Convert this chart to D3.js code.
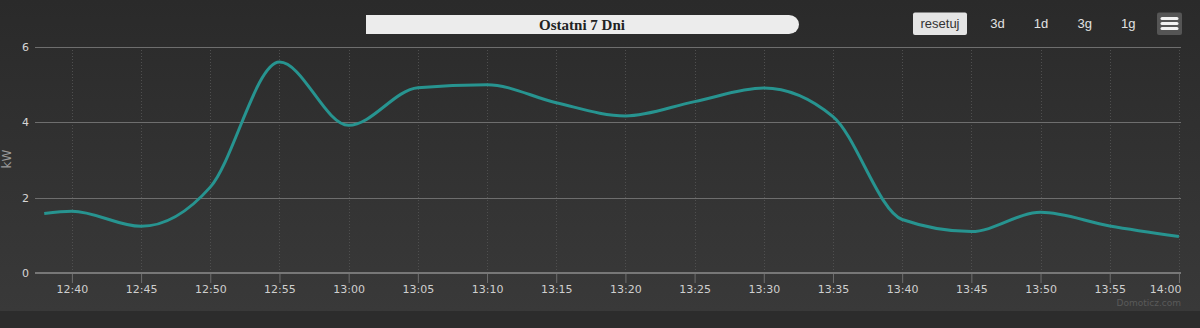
<!DOCTYPE html>
<html>
<head>
<meta charset="utf-8">
<script src="https://cdn.jsdelivr.net/npm/d3@7"></script>
<style>
  body { margin: 0; background: #2c2c2c; }
  svg { display: block; }
</style>
</head>
<body>
<div id="chart"></div>
<script>
// data (kW, one point roughly every 5 minutes)
var times = ["12:38", "12:40", "12:45", "12:50", "12:55", "13:00", "13:05", "13:10", "13:15",
             "13:20", "13:25", "13:30", "13:35", "13:40", "13:45", "13:50", "13:55", "14:00"];
var power = [1.58, 1.64, 1.24, 2.28, 5.6, 3.92, 4.92, 5.0, 4.52,
             4.17, 4.55, 4.91, 4.15, 1.42, 1.1, 1.61, 1.25, 0.97];
var yTicks = [0, 2, 4, 6];
var rangeButtons = ["3d", "1d", "3g", "1g"];
var title = "Ostatni 7 Dni";

var W = 1200, H = 328;
var parse = d3.timeParse("%H:%M:%S");
var t = function(s) { return parse(s.length == 5 ? s + ":00" : s); };

var svg = d3.select("#chart").append("svg")
    .attr("width", W).attr("height", H);

// background with a soft vertical gradient
var grad = svg.append("defs").append("linearGradient")
    .attr("id", "bg").attr("x1", 0).attr("y1", 0).attr("x2", 0).attr("y2", 1);
grad.append("stop").attr("offset", "0%").attr("stop-color", "#2a2a2a");
grad.append("stop").attr("offset", "100%").attr("stop-color", "#393939");
svg.append("rect").attr("width", W).attr("height", 311).attr("fill", "url(#bg)");
svg.append("rect").attr("y", 311).attr("width", W).attr("height", H - 311).attr("fill", "#2c2c2c");

var x = d3.scaleTime()
    .domain([t("12:37:20"), t("14:00:09")])
    .range([35, 1181]);
var y = d3.scaleLinear().domain([0, 6]).range([273, 47]);

var xTicks = d3.timeMinute.every(5).range(t("12:40"), t("14:00:01"));

// vertical dotted grid
svg.append("g").selectAll("line").data(xTicks).enter().append("line")
    .attr("x1", d => Math.round(x(d)) + 0.5).attr("x2", d => Math.round(x(d)) + 0.5)
    .attr("y1", 47).attr("y2", 273)
    .attr("stroke", "#4f4f4f").attr("stroke-dasharray", "1,2");

// horizontal grid
svg.append("g").selectAll("line").data(yTicks.filter(d => d > 0)).enter().append("line")
    .attr("x1", 35).attr("x2", 1181)
    .attr("y1", d => Math.round(y(d)) + 0.5).attr("y2", d => Math.round(y(d)) + 0.5)
    .attr("stroke", "#6e6e6e");

// x axis
var xAxis = svg.append("g")
    .attr("transform", "translate(0,273)")
    .call(d3.axisBottom(x).tickValues(xTicks).tickFormat(d3.timeFormat("%H:%M"))
          .tickSize(10).tickPadding(0));
xAxis.select(".domain").remove();
xAxis.append("line").attr("x1", 35).attr("x2", 1181).attr("stroke", "#777").attr("stroke-width", 2);
xAxis.selectAll(".tick line").attr("stroke", "#6e6e6e");
xAxis.selectAll(".tick text")
    .attr("fill", "#cfcfcf").style("font", "11px 'DejaVu Sans'")
    .attr("y", 20).attr("dy", null);
// last label pushed inside the plot like highcharts does
xAxis.selectAll(".tick text").filter((d, i, n) => i == n.length - 1)
    .attr("text-anchor", "end").attr("x", 1181 - x(xTicks[xTicks.length - 1]));

// y axis labels
svg.append("g").selectAll("text").data(yTicks).enter().append("text")
    .attr("x", 29).attr("y", d => y(d) + 4)
    .attr("text-anchor", "end")
    .attr("fill", "#d6d6d6").style("font", "11px 'DejaVu Sans'")
    .text(d => d);

svg.append("text")
    .attr("transform", "translate(11,159) rotate(-90)")
    .attr("text-anchor", "middle")
    .attr("fill", "#9a9a9a").style("font", "12px 'DejaVu Sans'")
    .text("kW");

// the power line
var line = d3.line()
    .x((d, i) => x(t(times[i])))
    .y(d => y(d))
    .curve(d3.curveMonotoneX);
svg.append("path").datum(power)
    .attr("d", line)
    .attr("fill", "none")
    .attr("stroke", "#279490")
    .attr("stroke-width", 3)
    .attr("stroke-linejoin", "round");

// title pill
svg.append("path")
    .attr("d", "M366,15 H789 A10,9.5 0 0 1 789,34 H366 Z")
    .attr("fill", "#ececec");
svg.append("text")
    .attr("x", 582).attr("y", 30)
    .attr("text-anchor", "middle")
    .attr("fill", "#222")
    .style("font", "bold 15px 'Liberation Serif'")
    .text(title);

// range selector buttons
svg.append("rect").attr("x", 913).attr("y", 12.5).attr("width", 54).attr("height", 22.5)
    .attr("rx", 2).attr("fill", "#e4e4e4");
svg.append("text").attr("x", 940).attr("y", 28).attr("text-anchor", "middle")
    .attr("fill", "#333").style("font", "13px 'Liberation Sans'").text("resetuj");
svg.append("g").selectAll("text").data(rangeButtons).enter().append("text")
    .attr("x", (d, i) => 997.5 + i * 43.6).attr("y", 28)
    .attr("text-anchor", "middle")
    .attr("fill", "#e2e2e2").style("font", "13px 'Liberation Sans'")
    .text(d => d);

// menu button
svg.append("rect").attr("x", 1157).attr("y", 12.5).attr("width", 25).attr("height", 22.5)
    .attr("rx", 2).attr("fill", "#555");
svg.append("g").selectAll("line").data([18.5, 23.5, 28.5]).enter().append("line")
    .attr("x1", 1162).attr("x2", 1177).attr("y1", d => d).attr("y2", d => d)
    .attr("stroke", "#f2f2f2").attr("stroke-width", 3).attr("stroke-linecap", "round");

// credits
svg.append("text").attr("x", 1181).attr("y", 306).attr("text-anchor", "end")
    .attr("fill", "#5a5a5a").style("font", "9px 'DejaVu Sans'").text("Domoticz.com");
</script>
</body>
</html>
